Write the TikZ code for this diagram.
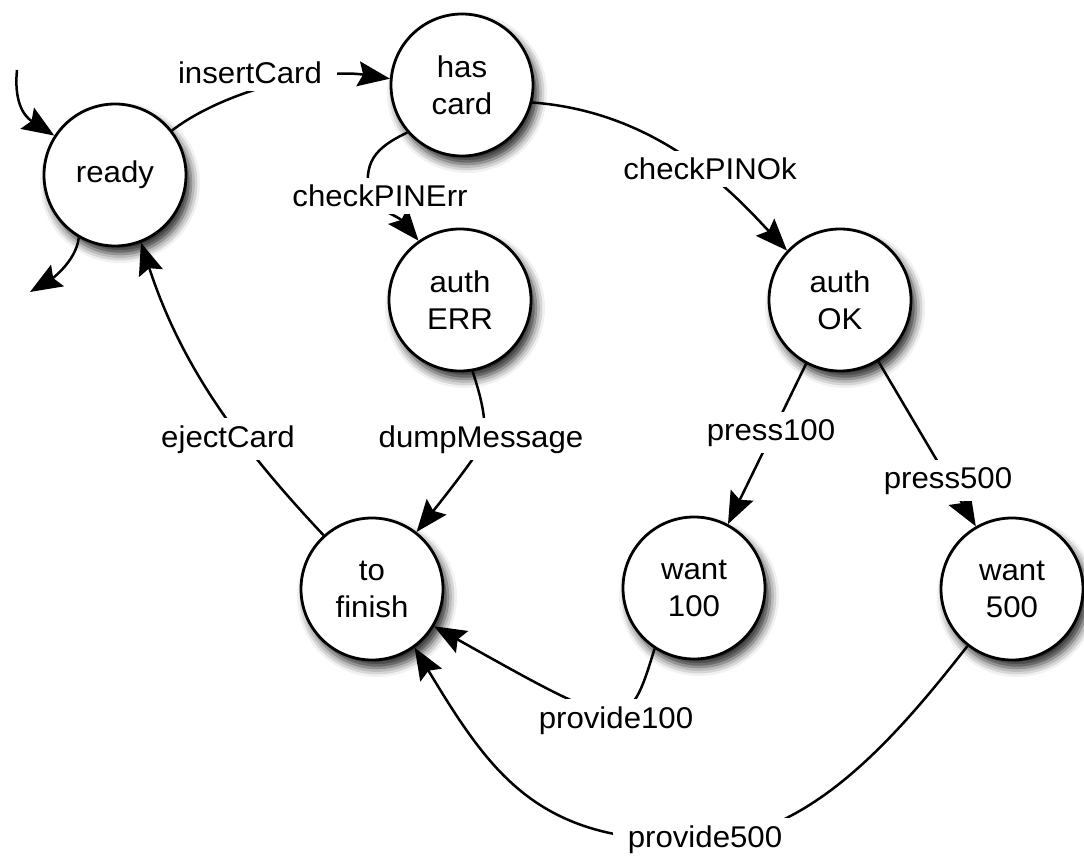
\documentclass[tikz,border=0pt]{standalone}
\usepackage{fontspec}
\setmainfont[FakeStretch=1.04]{Liberation Sans}
\usetikzlibrary{arrows.meta,shadows.blur}
\begin{document}
\begin{tikzpicture}[x=1pt,y=1pt,
  state/.style={circle,draw,line width=2.8pt,fill=white,minimum size=142pt,inner sep=0pt,
    align=center,font=\fontsize{30}{37}\selectfont,
    blur shadow={shadow xshift=5pt,shadow yshift=-8pt,shadow blur radius=9pt,shadow opacity=85}},
  lbl/.style={fill=white,inner xsep=15pt,inner ysep=7pt,anchor=base,font=\fontsize{30}{36}\selectfont},
  edge/.style={line width=2.5pt,-{Stealth[length=32pt,width=25pt,inset=5pt]}}
]
\useasboundingbox (0,0) rectangle (1084,-858);

% states
\node[state] (ready)    at (115,-175) {ready};
\node[state] (hascard)  at (462,-85)  {has\\card};
\node[state] (autherr)  at (460,-300) {auth\\ERR};
\node[state] (authok)   at (840,-300) {auth\\OK};
\node[state] (tofinish) at (372,-589) {to\\finish};
\node[state] (want100)  at (694,-588) {want\\100};
\node[state] (want500)  at (1012,-589) {want\\500};

\coordinate (init) at (17,-70);
\coordinate (out)  at (30,-292);

% connectors
\draw[edge] (init) .. controls (13,-110) and (30,-120) .. (ready.147);
\draw[edge] (ready.240) .. controls (76,-262) and (50,-280) .. (out);
\draw[edge] (ready.38) .. controls (225,-90) and (320,-68) .. (hascard.175);
\draw[edge] (hascard.221) .. controls (375,-148) and (362,-162) .. (370,-200)
            .. controls (378,-210) and (398,-216) .. (autherr.125);
\draw[edge] (hascard.-14) .. controls (660,-112) and (735,-195) .. (authok.137);
\draw[edge] (autherr.-80) .. controls (482,-400) and (488,-425) .. (482,-445)
            .. controls (472,-462) and (442,-500) .. (tofinish.52);
\draw[edge] (tofinish.132) .. controls (234,-440) and (180,-362) .. (ready.-69);
\draw[edge] (authok.242) -- (want100.62);
\draw[edge] (authok.-58) -- (want500.120);
\draw[edge] (want100.237) .. controls (628,-735) and (628,-735) .. (tofinish.-31);
\draw[edge] (want500.232) .. controls (900,-732) and (810,-840) .. (700,-840)
            .. controls (540,-845) and (492,-776) .. (tofinish.-54);

% labels
\node[lbl] (l1) at (250,-84)  {insertCard};
\node[lbl] (l2) at (380,-207) {checkPINErr};
\node[lbl] (l3) at (710,-180) {checkPINOk};
\node[lbl] (l4) at (481,-447) {dumpMessage};
\node[lbl] (l5) at (228,-447) {ejectCard};
\node[lbl] (l6) at (771,-440) {press100};
\node[lbl] (l7) at (948,-488) {press500};
\node[lbl] (l8) at (616,-728) {provide100};
\node[lbl] (l9) at (705,-847) {provide500};
\end{tikzpicture}
\end{document}
